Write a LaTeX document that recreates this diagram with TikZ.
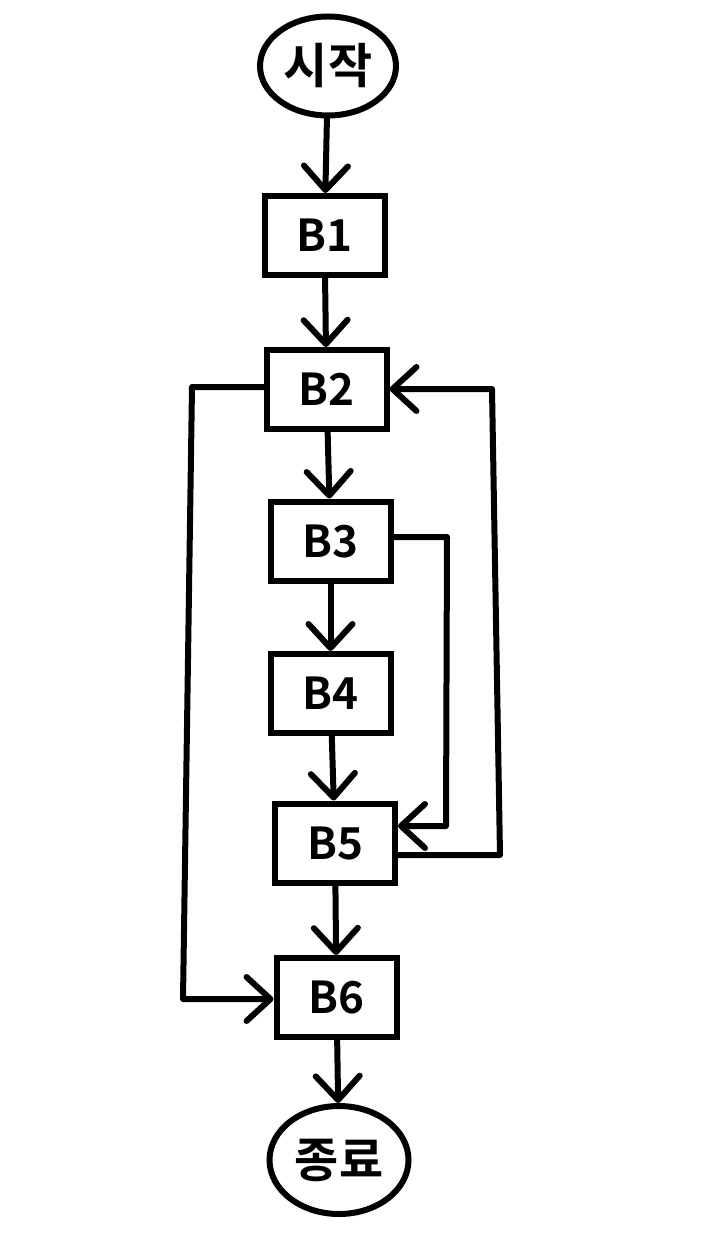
\documentclass[tikz,border=0pt]{standalone}
\usepackage{fontspec}
\setmainfont{Noto Sans CJK KR Bold}
\usetikzlibrary{arrows.meta,shapes.geometric}
\tikzset{
  terminal/.style = {ellipse, draw, line width=6pt, inner sep=0pt,
                     font=\fontsize{48}{48}\selectfont},
  block/.style    = {rectangle, draw, line width=6pt, inner sep=0pt,
                     minimum width=120pt, minimum height=79pt,
                     font=\fontsize{44}{44}\selectfont},
  flow/.style     = {-{Straight Barb[length=24pt,width=44pt,round]},
                     line width=6pt, line cap=round, line join=round},
}

\begin{document}
\begin{tikzpicture}[x=1pt,y=-1pt]
\fill[white] (0,0) rectangle (706,1244);
\useasboundingbox (0,0) rectangle (706,1244);
\node[terminal, minimum width=136pt, minimum height=99pt] (start) at (328,66)    {시작};
\node[block] (b1) at (324.5,235.5) {B1};
\node[block] (b2) at (326.5,389.5) {B2};
\node[block] (b3) at (330.5,541)   {B3};
\node[block] (b4) at (330.5,693.5) {B4};
\node[block] (b5) at (335,843)     {B5};
\node[block] (b6) at (336.5,997.5) {B6};
\node[terminal, minimum width=139pt, minimum height=108pt] (end) at (339,1160) {종료};
% corners of the back and skip edges
\coordinate (l1) at (192,387);
\coordinate (l2) at (183,999);
\coordinate (i1) at (447,537);
\coordinate (i2) at (446,826);
\coordinate (o1) at (500,855);
\coordinate (o2) at (492,389);
% main line
\draw[flow] (start) -- (b1);
\draw[flow] (b1) -- (b2);
\draw[flow] (b2) -- (b3);
\draw[flow] (b3) -- (b4);
\draw[flow] (b4) -- (b5);
\draw[flow] (b5) -- (b6);
\draw[flow] (b6) -- (end);
% loops
\draw[flow] (b2.west |- l1) -- (l1) -- (l2) -- (b6.west |- l2);
\draw[flow] (b3.east |- i1) -- (i1) -- (i2) -- (b5.east |- i2);
\draw[flow] (b5.east |- o1) -- (o1) -- (o2) -- (b2.east |- o2);
\end{tikzpicture}
\end{document}
